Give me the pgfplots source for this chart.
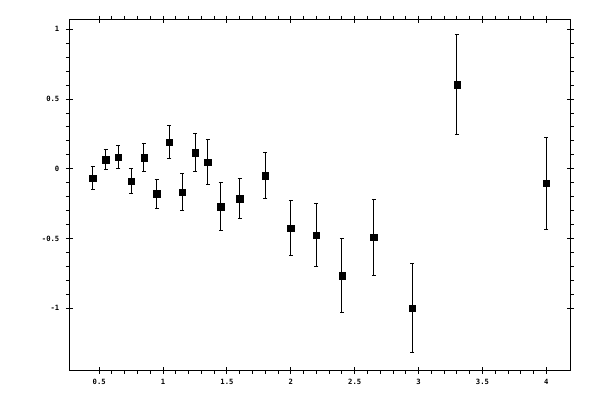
\documentclass[border=0pt]{standalone}
\usepackage{pgfplots}
\pgfplotsset{compat=1.18}
\usepackage{fontspec}
\setmonofont{DejaVu Sans Mono}

\pgfplotstableread{
x     y       e
0.45  -0.065  0.084
0.55   0.065  0.071
0.65   0.085  0.082
0.75  -0.087  0.087
0.85   0.079  0.100
0.95  -0.179  0.106
1.05   0.191  0.118
1.15  -0.166  0.131
1.25   0.117  0.139
1.35   0.047  0.162
1.45  -0.271  0.171
1.60  -0.214  0.142
1.80  -0.050  0.165
2.00  -0.425  0.197
2.20  -0.475  0.228
2.40  -0.765  0.268
2.65  -0.492  0.275
2.95  -1.000  0.318
3.30   0.602  0.358
4.00  -0.105  0.332
}\pts

\begin{document}
\begin{tikzpicture}
\useasboundingbox (0,0) rectangle (600pt,400pt);
\begin{axis}[
  at={(69.3pt,30pt)}, anchor=south west,
  scale only axis, width=500.7pt, height=350.7pt,
  xmin=0.266, xmax=4.185, ymin=-1.442, ymax=1.072,
  axis line style={line width=1pt},
  xtick={0.5,1,...,4}, ytick={-1,-0.5,...,1},
  xticklabels={0.5,1,1.5,2,2.5,3,3.5,4},
  yticklabels={-1,-0.5,0,0.5,1},
  minor tick num=4,
  tick align=outside, tick pos=both,
  major tick length=3.5pt, minor tick length=3.5pt,
  every tick/.style={black, line width=1pt},
  extra x ticks={0.5,1,...,4}, extra x tick labels={},
  extra y ticks={-1,-0.5,...,1}, extra y tick labels={},
  extra tick style={tick align=inside, major tick length=3.5pt},
  tick label style={font=\ttfamily\bfseries\fontsize{7.2}{8}\selectfont},
  xticklabel style={yshift=-2pt},
  yticklabel style={xshift=-3pt},
]
\addplot[black, only marks, mark=square*, mark size=3.2pt,
  error bars/.cd, y dir=both, y explicit,
  error bar style={line width=1pt},
  error mark options={rotate=90, mark size=2pt, line width=1pt}]
  table[x=x, y=y, y error=e] {\pts};
\end{axis}
\end{tikzpicture}
\end{document}
